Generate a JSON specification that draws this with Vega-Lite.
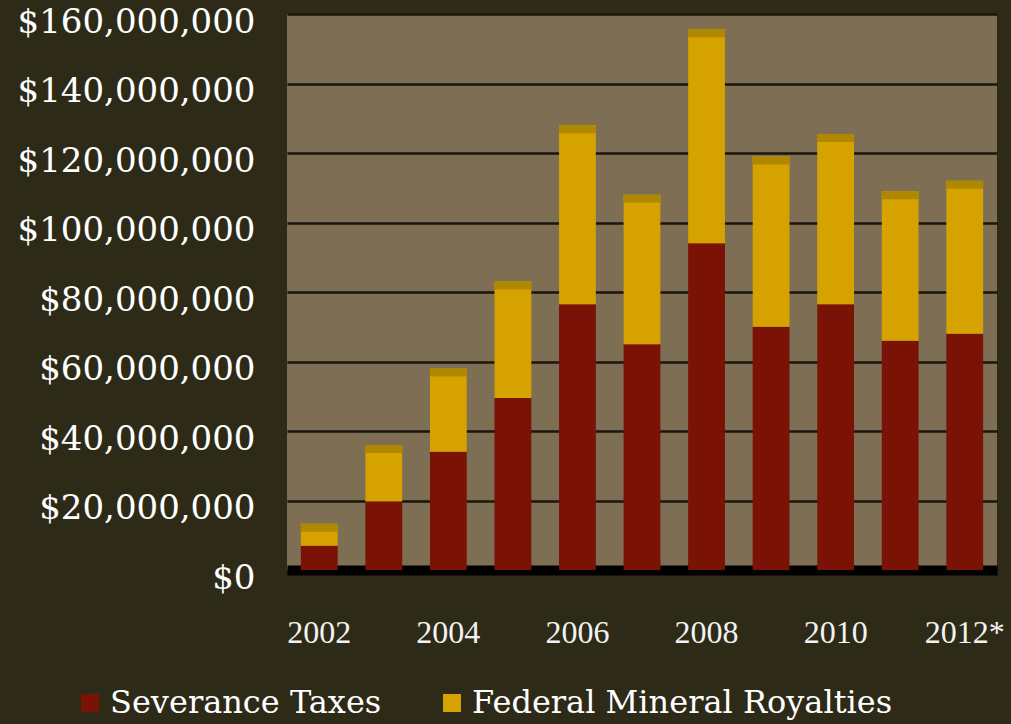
{
  "$schema": "https://vega.github.io/schema/vega-lite/v6.json",
  "width": 710,
  "height": 556,
  "autosize": {"type": "none"},
  "padding": {"left": 287, "top": 14, "right": 14, "bottom": 154},
  "background": "#2e2a18",
  "config": {
    "view": {"fill": "#7d6e54", "stroke": null},
    "font": "DejaVu Serif"
  },
  "data": {
    "values": [
      {"year": "2002", "type": "Severance Taxes", "value": 7000000},
      {"year": "2002", "type": "Federal Mineral Royalties", "value": 6300000},
      {"year": "2003", "type": "Severance Taxes", "value": 19700000},
      {"year": "2003", "type": "Federal Mineral Royalties", "value": 16300000},
      {"year": "2004", "type": "Severance Taxes", "value": 34000000},
      {"year": "2004", "type": "Federal Mineral Royalties", "value": 24000000},
      {"year": "2005", "type": "Severance Taxes", "value": 49500000},
      {"year": "2005", "type": "Federal Mineral Royalties", "value": 33500000},
      {"year": "2006", "type": "Severance Taxes", "value": 76500000},
      {"year": "2006", "type": "Federal Mineral Royalties", "value": 51500000},
      {"year": "2007", "type": "Severance Taxes", "value": 65000000},
      {"year": "2007", "type": "Federal Mineral Royalties", "value": 43000000},
      {"year": "2008", "type": "Severance Taxes", "value": 94000000},
      {"year": "2008", "type": "Federal Mineral Royalties", "value": 61600000},
      {"year": "2009", "type": "Severance Taxes", "value": 70000000},
      {"year": "2009", "type": "Federal Mineral Royalties", "value": 49000000},
      {"year": "2010", "type": "Severance Taxes", "value": 76500000},
      {"year": "2010", "type": "Federal Mineral Royalties", "value": 49000000},
      {"year": "2011", "type": "Severance Taxes", "value": 66000000},
      {"year": "2011", "type": "Federal Mineral Royalties", "value": 43000000},
      {"year": "2012*", "type": "Severance Taxes", "value": 68000000},
      {"year": "2012*", "type": "Federal Mineral Royalties", "value": 44000000}
    ]
  },
  "encoding": {
    "x": {
      "field": "year",
      "type": "ordinal",
      "scale": {"paddingInner": 0.43, "paddingOuter": 0.215},
      "axis": {
        "title": null,
        "labelAngle": 0,
        "labelFont": "Liberation Serif",
        "labelFontSize": 32,
        "labelColor": "#f2f2f2",
        "labelPadding": 47,
        "labelOverlap": false,
        "ticks": false,
        "tickSize": 0,
        "domain": true,
        "domainColor": "#000000",
        "domainWidth": 10,
        "zindex": 0,
        "labelExpr": "indexof(['2003','2005','2007','2009','2011'], datum.label) >= 0 ? '' : datum.label"
      }
    }
  },
  "layer": [
    {
      "mark": {"type": "bar"},
      "encoding": {
        "y": {
          "field": "value",
          "type": "quantitative",
          "stack": "zero",
          "scale": {"domain": [0, 160000000], "nice": false},
          "axis": {
            "title": null,
            "values": [0, 20000000, 40000000, 60000000, 80000000, 100000000, 120000000, 140000000, 160000000],
            "format": "$,.0f",
            "labelFont": "DejaVu Serif",
            "labelFontSize": 34,
            "labelColor": "#ffffff",
            "labelPadding": 32,
            "labelOffset": 8,
            "labelLimit": 400,
            "labelOverlap": false,
            "labelBound": false,
            "labelFlush": false,
            "ticks": false,
            "tickSize": 0,
            "domain": false,
            "grid": true,
            "gridColor": "#1a160e",
            "gridWidth": 2.5,
            "zindex": 0
          }
        },
        "color": {
          "field": "type",
          "type": "nominal",
          "sort": ["Severance Taxes", "Federal Mineral Royalties"],
          "scale": {
            "domain": ["Severance Taxes", "Federal Mineral Royalties"],
            "range": ["#7a1206", "#d6a200"]
          },
          "legend": {
            "title": null,
            "orient": "none",
            "direction": "horizontal",
            "legendX": -213,
            "legendY": 673,
            "symbolType": "square",
            "symbolSize": 324,
            "symbolStrokeWidth": 0,
            "labelFont": "DejaVu Serif",
            "labelFontSize": 32,
            "labelColor": "#ffffff",
            "labelOffset": 4,
            "labelLimit": 600,
            "columnPadding": 54,
            "padding": 0
          }
        },
        "order": {"field": "type", "sort": "descending"}
      }
    },
    {
      "mark": {"type": "tick", "color": "#b08800", "thickness": 8, "size": 37, "yOffset": 4, "opacity": 1},
      "encoding": {
        "y": {"aggregate": "sum", "field": "value", "type": "quantitative"}
      }
    }
  ]
}
